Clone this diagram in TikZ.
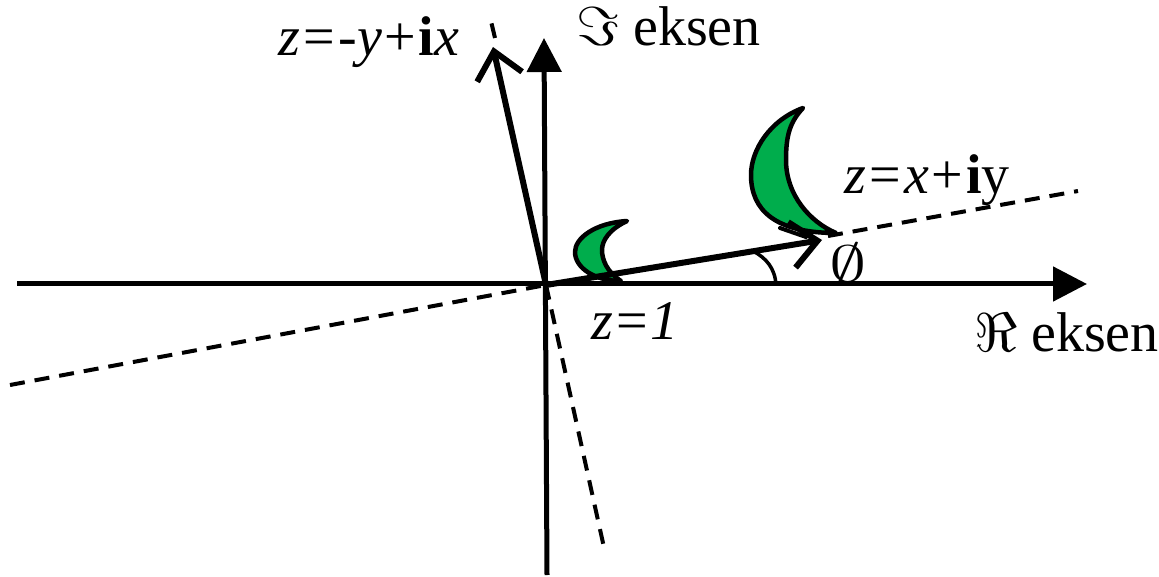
\documentclass[tikz,border=0pt]{standalone}
\usepackage{fontspec}
\usepackage{graphicx}
\setmainfont{Liberation Serif}
\usetikzlibrary{arrows.meta}
\definecolor{moongreen}{RGB}{0,173,76}
\newcommand{\eqsp}{\hspace{3.5pt}=\hspace{3.5pt}}
\newcommand{\plsp}{\hspace{2.5pt}+\hspace{2.5pt}}
\tikzset{
 axisline/.style={line width=5pt,-{Triangle[length=34pt,width=34pt]}},
 vecline/.style={line width=6pt,line cap=round,-{Straight Barb[length=26pt,width=46pt,line width=6pt]}},
 dashline/.style={line width=4pt,dash pattern=on 15pt off 10pt},
 moon/.style={fill=moongreen,draw=black,line width=4.5pt,line join=round},
 lab/.style={inner sep=0pt,anchor=base west,font=\fontsize{56}{56}\selectfont},
}
\begin{document}
\begin{tikzpicture}[x=1pt,y=-1pt]
\useasboundingbox (0,0) rectangle (1159,577);
\coordinate (O) at (546,285);
\coordinate (xl) at (17,284);
\coordinate (xr) at (1087,284);
\coordinate (yb) at (547,575);
\coordinate (yt) at (544,38);
\coordinate (d1a) at (10,385);
\coordinate (d1b) at (1078,191);
\coordinate (d1c) at (828,236);
\coordinate (d2a) at (605,552);
\coordinate (d2b) at (490,17);
\coordinate (d2c) at (495,38);
\coordinate (v1) at (822,240);
\coordinate (v2) at (493,47);
\coordinate (a1) at (776,285);
\coordinate (a2) at (753,251);
\coordinate (m1) at (780,228);
\coordinate (m2) at (806,237);
\draw[dashline] (d1a) -- (O);
\draw[dashline] (d1c) -- (d1b);
\draw[dashline] (O) -- (d2a);
\draw[dashline] (d2c) -- (d2b);
\draw[axisline] (xl) -- (xr);
\draw[axisline] (yb) -- (yt);
\draw[line width=3.5pt] (a1) .. controls (775,268) and (766,258) .. (a2);
% small moon
\draw[moon] (627,221) .. controls (595,223) and (575,238) .. (575,252) .. controls (575,268) and (595,281) .. (621,281) .. controls (607,272) and (602,260) .. (602,250) .. controls (602,240) and (610,229) .. (627,221) -- cycle;
% large moon
\draw[moon] (803,108) .. controls (770,120) and (751,150) .. (751,175) .. controls (751,210) and (775,233) .. (836,233) .. controls (810,222) and (786,195) .. (786,160) .. controls (786,135) and (790,122) .. (803,108) -- cycle;
\draw[line width=4pt,line cap=round] (m1) -- (m2);
\draw[vecline] (O) -- (v1);
\draw[vecline] (O) -- (v2);
\node[lab] (t1) at (278,56) {\textit{z}\eqsp-\textit{y}\plsp\textbf{i}\textit{x}};
\node[lab] (t2) at (576,46) {\smash{\scalebox{2.4}[2.2]{$\Im$}} eksen};
\node[lab] (t3) at (844,194) {\textit{z}\eqsp\textit{x}\plsp\textbf{i}y};
\node[lab] (t4) at (591,339) {\textit{z}\hspace{3pt}=\hspace{3pt}\textit{1}};
\node[lab] (t5) at (974,351) {\scalebox{2.4}[2.2]{$\Re$} eksen};
\node[lab] (t6) at (829,282) {\scalebox{3}[2.05]{$\emptyset$}};
\end{tikzpicture}
\end{document}
